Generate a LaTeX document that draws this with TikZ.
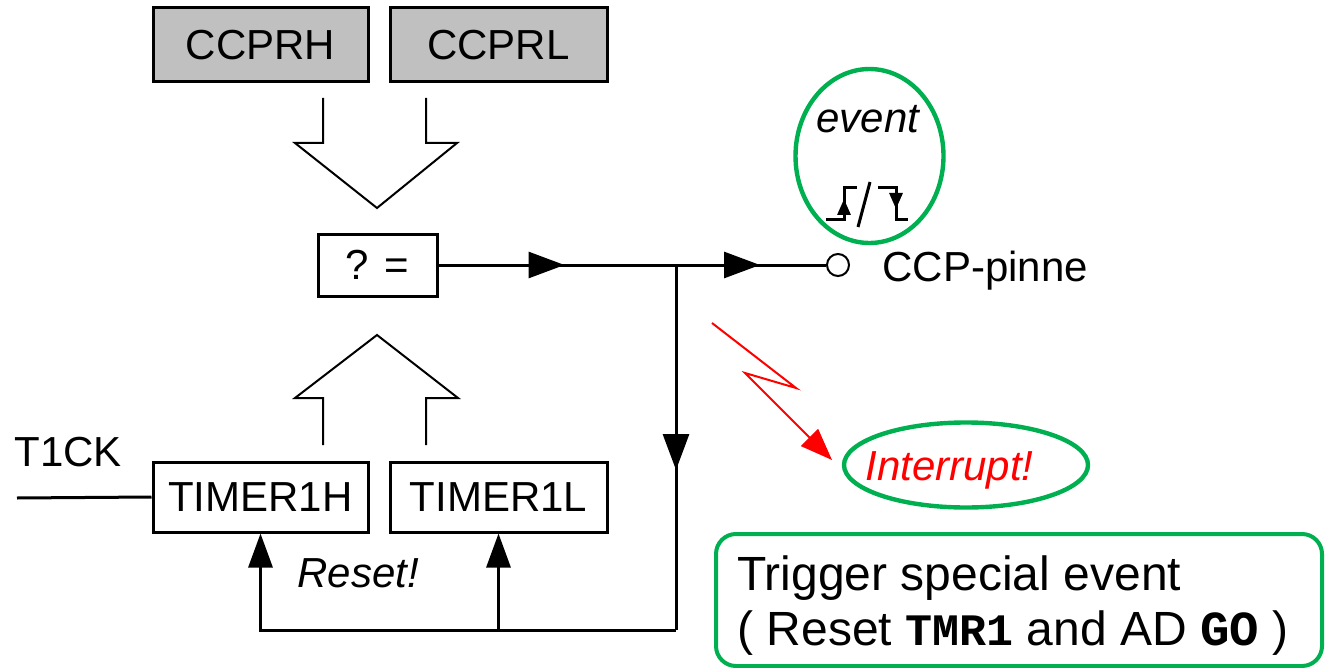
\documentclass[tikz,border=0pt]{standalone}
\usepackage{fontspec}
\setmainfont{Liberation Sans}
\newfontfamily\codefont{Liberation Mono}
\usetikzlibrary{arrows.meta,shapes.geometric,decorations.markings}
\definecolor{regray}{HTML}{C0C0C0}
\definecolor{ringgreen}{HTML}{00B050}
\newcommand\lbl{\fontsize{21pt}{25pt}\selectfont}
\newcommand\bigtxt{\fontsize{24pt}{27.5pt}\selectfont}
\newcommand\code[2]{{\codefont\bfseries\fontsize{#1}{24pt}\selectfont #2}}
\begin{document}
\begin{tikzpicture}[x=0.5pt,y=-0.5pt,
  reg/.style={draw, line width=1.5pt, fill=regray, minimum width=107.5pt,
    minimum height=37pt, inner sep=0pt, font=\lbl},
  cnt/.style={draw, line width=1.5pt, fill=white, minimum width=107.5pt,
    minimum height=35pt, inner sep=0pt, font=\lbl},
  wire/.style={line width=1.5pt},
  hollow/.style={line width=1pt, line join=miter},
  ring/.style={ellipse, draw=ringgreen, line width=2.2pt, inner sep=0pt},
  flow/.style={postaction={decorate}, decoration={markings,
    mark=at position #1 with {\arrow{Triangle[length=18pt,width=13pt]}}}},
  endtip/.style={-{Triangle[length=17pt,width=12pt]}},
  edgeline/.style={line width=1.5pt},
  edgetip/.style={line width=1.5pt, -{Triangle[length=8pt,width=6.5pt]}},
  lbltext/.style={font=\lbl, inner sep=0pt}
]
\useasboundingbox (0,0) rectangle (1326,668);

% registers and counter
\node[reg] (ccprh) at (260.5,45) {CCPRH};
\node[reg, minimum width=108.5pt] (ccprl) at (498.5,45) {CCPRL};
\node[cnt, minimum width=59.5pt, minimum height=31pt] (cmp) at (377.5,265) {? =};
\node[cnt] (t1h) at (260.5,497) {TIMER1H};
\node[cnt, minimum width=108.5pt] (t1l) at (498.5,497) {TIMER1L};

% wide hollow arrows into the comparator
\draw[hollow] (323,98) -- (323,143) -- (295,143) -- (377,208) -- (457,143) -- (426,143) -- (426,98);
\draw[hollow] (323,445) -- (323,398) -- (295,398) -- (377,335) -- (458,398) -- (426,398) -- (426,445);

% clock input
\coordinate (clkin) at (17,498);
\node[lbltext, anchor=base west] (clk) at (14,466) {T1CK};
\draw[wire] (clkin) -- (t1h.west);

% output pin
\coordinate (jn) at (676,265);
\coordinate (bot) at (676,630);
\node[circle, draw, line width=1pt, minimum size=11pt, inner sep=0pt] (pin) at (838,265) {};
\node[lbltext, anchor=base west] (pinlbl) at (882,281) {CCP-pinne};

\draw[wire, flow=63pt] (cmp.east) -- (jn);
\draw[wire, flow=42pt] (jn) -- (pin.west);
\draw[wire, flow=102.5pt] (jn) -- (bot);
\draw[wire, endtip] (bot) -| (t1h.south);
\draw[wire, endtip] (t1l.south |- bot) -- (t1l.south);
\node[lbltext, font=\lbl\itshape, anchor=base west] (rst) at (297,587) {Reset!};

% event marker with edge symbol
\node[ring, minimum width=74pt, minimum height=87pt] (evt) at (869.5,156) {};
\node[lbltext, font=\lbl\itshape, anchor=base] (evtxt) at (868,133) {event};
\draw[edgeline] (826,220) -- (844,220) -- (844,188) -- (857,188);
\draw[edgeline] (878,188) -- (896,188) -- (896,220) -- (908,220);
\draw[edgeline] (870,182) -- (858,227);
\draw[edgetip] (844,218) -- (844,199);
\draw[edgetip] (896,190) -- (896,209);

% interrupt request
\node[ring, minimum width=122pt, minimum height=42.5pt] (irq) at (966,465) {};
\node[lbltext, font=\lbl\itshape, text=red, anchor=base west] (irqtxt) at (865,480) {Interrupt!};
\coordinate (zapA) at (712,323);
\coordinate (zapB) at (796,388);
\coordinate (zapC) at (745,373);
\coordinate (zapD) at (832,460);
\draw[red, line width=1pt, line join=miter, -{Triangle[length=16pt,width=12pt]}]
  (zapA) -- (zapB) -- (zapC) -- (zapD);

% special event trigger note
\node[draw=ringgreen, line width=2pt, rounded corners=10pt, minimum width=303pt,
  minimum height=66pt, inner sep=0pt] (trig) at (1019,600) {};
\node[anchor=base west, inner sep=0pt, font=\bigtxt] (trig1) at (737,590) {Trigger special event};
\node[anchor=base west, inner sep=0pt, font=\bigtxt] (trig2) at (737,645)
  {( Reset \code{22.5pt}{TMR1} and AD \code{24.5pt}{GO} )};
\end{tikzpicture}
\end{document}
